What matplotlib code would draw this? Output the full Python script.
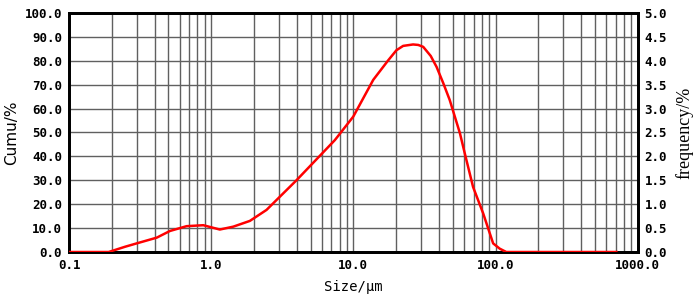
import numpy as np
import matplotlib.pyplot as plt
from matplotlib.ticker import FixedLocator, NullFormatter

# particle size (um) and frequency (%)
size = [0.1, 0.19, 0.248, 0.299, 0.414, 0.513, 0.671, 0.88, 1.15, 1.43, 1.87, 2.45,
        3.98, 7.41, 9.98, 13.8, 17.6, 20.1, 22.4, 26.3, 28.6, 31.0, 35.0, 38.5,
        42.9, 47.6, 56.1, 60.8, 69.5, 81.8, 96.2, 107, 119, 708]
freq = [0.0, 0.0, 0.11, 0.18, 0.30, 0.44, 0.54, 0.56, 0.47, 0.53, 0.65, 0.88,
        1.50, 2.34, 2.83, 3.60, 4.01, 4.22, 4.31, 4.34, 4.33, 4.29, 4.10, 3.87,
        3.53, 3.18, 2.49, 2.06, 1.36, 0.81, 0.18, 0.07, 0.0, 0.0]

xticks = [0.1, 1, 10, 100, 1000]
xlabels = ['0.1', '1.0', '10.0', '100.0', '1000.0']
cumu_ticks = np.arange(0, 101, 10)
freq_ticks = np.arange(0, 5.01, 0.5)

fig = plt.figure(figsize=(7, 3), dpi=100)
ax = fig.add_axes([0.0986, 0.16, 0.8124, 0.797])
ax2 = ax.twinx()

ax.set_xscale('log')
ax.set_xlim(0.1, 1000)
ax.set_ylim(0, 100)
ax2.set_ylim(0, 5)

minors = [m * 10.0 ** e for e in range(-1, 3) for m in range(2, 10)]
ax.xaxis.set_minor_locator(FixedLocator(minors))
ax.xaxis.set_minor_formatter(NullFormatter())
ax.set_xticks(xticks)
ax.set_xticklabels(xlabels)
ax.set_yticks(cumu_ticks)
ax.set_yticklabels(['%.1f' % v for v in cumu_ticks])
ax2.set_yticks(freq_ticks)
ax2.set_yticklabels(['%.1f' % v for v in freq_ticks])

ax.grid(True, which='both', axis='x', color='#606060', lw=1)
ax.grid(True, which='major', axis='y', color='#606060', lw=1)
ax.set_axisbelow(True)

ax2.plot(size, freq, color='#ff0000', lw=1.8, zorder=3)

for lab in ax.get_xticklabels() + ax.get_yticklabels() + ax2.get_yticklabels():
    lab.set_fontfamily('DejaVu Sans Mono')
    lab.set_fontweight('bold')
    lab.set_fontsize(9)

ax.tick_params(which='both', length=0, pad=5)
ax2.tick_params(length=0, pad=5)

for a in (ax, ax2):
    for s in a.spines.values():
        s.set_linewidth(2)
        s.set_color('black')

ax.set_ylabel('Cumu/%', family='DejaVu Sans', fontsize=11, labelpad=4)
ax2.set_ylabel('frequency/%', family='Liberation Serif', fontsize=13, rotation=90, labelpad=6)
ax.set_xlabel('Size/\u03bcm', family='DejaVu Sans Mono', fontsize=10, labelpad=6)

plt.savefig('out.png', dpi=100)
